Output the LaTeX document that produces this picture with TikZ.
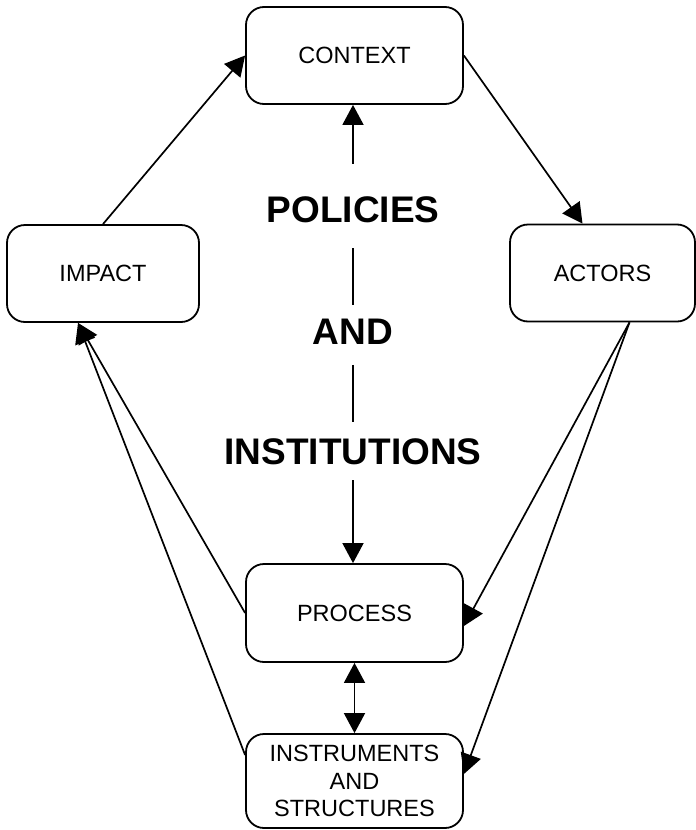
\documentclass[tikz,border=0pt]{standalone}
\usepackage{fontspec}
\setmainfont{Liberation Sans}
\usetikzlibrary{arrows.meta}

\tikzset{
  box/.style={draw, line width=1.8pt, rounded corners=18pt, inner sep=0pt, align=center,
    font=\fontsize{23.5}{27.5}\selectfont},
  bigword/.style={inner sep=0pt, font=\fontsize{37}{40}\selectfont\bfseries},
  link/.style={line width=1.7pt},
  arr/.style={line width=1.7pt, -{Triangle[length=20pt,width=21pt]}},
  twoarr/.style={line width=1.7pt, {Triangle[length=20pt,width=21pt]}-{Triangle[length=20pt,width=21pt]}}
}

\begin{document}
\begin{tikzpicture}[x=1pt,y=1pt,yscale=-1]
        \useasboundingbox (0,0) rectangle (696,830);

        %Boxes
        \node[box, minimum width=217pt, minimum height=97pt] (context) at (354.5,55.5) {CONTEXT};
        \node[box, minimum width=192pt, minimum height=97pt] (impact) at (103,273.5) {IMPACT};
        \node[box, minimum width=185pt, minimum height=97pt] (actors) at (602.5,273) {ACTORS};
        \node[box, minimum width=217pt, minimum height=98pt] (process) at (354.5,613) {PROCESS};
        \node[box, minimum width=217pt, minimum height=94pt] (instruments) at (354.5,781) {INSTRUMENTS\\AND\\STRUCTURES};

        %Middle words
        \node[bigword] (policies) at (353,210) {POLICIES};
        \node[bigword] (and) at (353,332) {AND};
        \node[bigword] (institutions) at (353,452) {INSTITUTIONS};

        %Middle column
        \draw[arr, shorten <=33pt] (policies.north) -- (policies.north |- context.south);
        \draw[link, shorten <=25pt, shorten >=14pt] (policies.south) -- (and.north);
        \draw[link, shorten <=20pt, shorten >=17pt] (and.south) -- (institutions.north);
        \draw[arr, shorten <=15pt] (institutions.south) -- (institutions.south |- process.north);
        \draw[twoarr] (process.south) -- (instruments.north);

        %Outer cycle
        \draw[arr] (impact.north) -- (context.west);
        \draw[arr] (context.east) -- ([xshift=-20pt]actors.north);
        \draw[arr] ([xshift=27pt]actors.south) -- ([yshift=13pt]process.east);
        \draw[arr] ([xshift=27pt]actors.south) -- ([yshift=-7pt]instruments.east);
        \draw[arr] (process.west) -- ([xshift=-25pt]impact.south);
        \draw[arr] ([yshift=-26pt]instruments.west) -- ([xshift=-25pt]impact.south);
\end{tikzpicture}
\end{document}
